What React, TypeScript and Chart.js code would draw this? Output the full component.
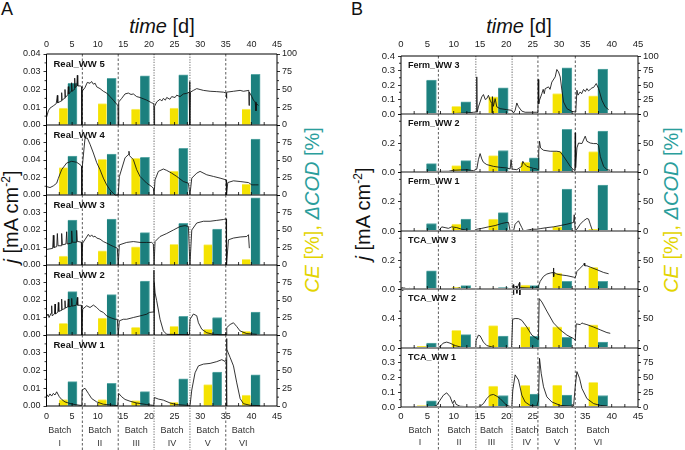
import React, { useEffect, useRef } from 'react';
import { Chart, registerables } from 'chart.js';

Chart.register(...registerables);

const FONT = '"Liberation Sans", Arial, Helvetica, sans-serif';
Chart.defaults.font.family = FONT;

const YELLOW = '#f4e200';
const TEAL = '#1c807e';
const YELLOW_RIM = '#f8ee70';
const TEAL_RIM = '#5aa8a6';
const LABEL_YELLOW = '#e3d400';
const LABEL_TEAL = '#2b9e9c';
const TICK_COLOR = '#222';

type P = [number, number];

const batchNames = ['I', 'II', 'III', 'IV', 'V', 'VI'];

// ---------- Panel A ----------
const batchBoundsA = [7, 14, 21, 28, 35];
const batchGrayA = [false, false, true, true, false];
const batchLabelPosA = [2.6, 10.4, 17.5, 24.5, 31.5, 38.4];
const ceDayA = [3.3, 10.9, 17.4, 24.9, 31.5, 39.0];
const codDayA = [5.05, 12.7, 19.2, 26.7, 33.3, 40.8];
const namesA = ['Real_WW 5', 'Real_WW 4', 'Real_WW 3', 'Real_WW 2', 'Real_WW 1'];
const jMaxA = [0.04, 0.08, 0.04, 0.04, 0.04];
const jStepA = [0.01, 0.02, 0.01, 0.01, 0.01];

const ceRealWW5 = [23.7, 30.2, 22.3, 23.7, 0, 22.3];
const codRealWW5 = [58.6, 65.6, 69.3, 70.7, 0, 71.2];
const ceRealWW4 = [39, 51, 52.4, 34.3, 0, 15.7];
const codRealWW4 = [55.7, 58.6, 53.8, 66.7, 0, 80];
const ceRealWW3 = [12.7, 20.3, 26, 29.7, 29.2, 8];
const codRealWW3 = [64.3, 65.7, 46.2, 59.5, 51.4, 96];
const ceRealWW2 = [16.8, 24, 11, 12.5, 8.2, 5.3];
const codRealWW2 = [62, 57.7, 77, 26.5, 25, 32.7];
const ceRealWW1 = [9.2, 9.2, 7.7, 5.3, 30, 15.5];
const codRealWW1 = [34.3, 31.9, 20.3, 38.2, 47.8, 44];

const jRealWW5: P[] = [[0,0.0043],[0.36,0.008],[0.68,0.0095],[1.33,0.0108],[1.9,0.012],[2.12,0.0167],[2.2,0.0125],[2.85,0.0135],[2.96,0.0182],[3.05,0.014],[3.5,0.015],[3.61,0.02],[3.7,0.0155],[4.15,0.017],[4.26,0.0216],[4.35,0.0175],[4.8,0.019],[4.9,0.0238],[5.0,0.019],[5.4,0.02],[5.5,0.0264],[5.6,0.021],[5.9,0.022],[6.02,0.028],[6.1,0.022],[6.6,0.022],[6.88,0.0215],[6.9,0],[6.95,0.019],[7.5,0.021],[7.97,0.024],[8.5,0.0235],[8.8,0.0245],[9.15,0.023],[9.5,0.0235],[9.8,0.0215],[10.45,0.0205],[11.1,0.019],[11.75,0.018],[12.4,0.016],[13.05,0.014],[13.6,0.012],[13.95,0.011],[14,0],[14.1,0.013],[14.68,0.015],[15.33,0.0175],[15.98,0.018],[16.5,0.0172],[16.96,0.0175],[17.61,0.016],[18.26,0.0155],[19.57,0.014],[20.54,0.0125],[20.95,0.012],[21,0],[21.1,0.0105],[21.51,0.013],[22.17,0.0145],[22.5,0.0135],[22.82,0.015],[23.2,0.014],[23.47,0.0155],[24.1,0.0145],[24.44,0.016],[25.1,0.0155],[25.42,0.0168],[26.07,0.016],[26.72,0.0175],[27.37,0.0178],[27.85,0.0185],[27.95,0.0245],[28,0],[28.1,0.0185],[28.68,0.0195],[29.33,0.0205],[29.98,0.02],[30.63,0.0195],[31.94,0.019],[33.24,0.0188],[34.54,0.0185],[35.1,0.018],[35.15,0.015],[35.2,0.0185],[36.5,0.019],[37.8,0.0195],[38.45,0.019],[39.5,0.0195],[39.55,0.011],[39.6,0.0185],[40.08,0.016],[40.4,0.014],[40.73,0.013],[40.9,0.008],[41.0,0.012],[41.38,0.011]];

const jRealWW4: P[] = [[0.03,0.0096],[0.68,0.0085],[1.33,0.0104],[1.99,0.0135],[2.31,0.019],[2.96,0.029],[3.94,0.0366],[4.92,0.0385],[5.89,0.0374],[6.54,0.0347],[6.85,0.033],[6.9,0],[6.95,0.03],[7.52,0.065],[7.97,0.065],[8.5,0.058],[9.15,0.048],[9.8,0.037],[10.45,0.029],[11.1,0.0193],[11.75,0.0116],[12.4,0.0058],[13.05,0.0019],[13.38,0],[14,0],[14.22,0.021],[15.33,0.0424],[15.98,0.0462],[16.1,0.05],[16.2,0.045],[16.96,0.0404],[17.61,0.0289],[18.26,0.0212],[19.57,0.0135],[20.54,0.0096],[20.86,0.0077],[21,0],[21.19,0.0173],[21.84,0.027],[22.82,0.0297],[23.47,0.0281],[24.44,0.025],[25.42,0.0212],[26.72,0.0154],[27.7,0.0135],[28,0],[28.36,0.0193],[29.33,0.025],[29.98,0.027],[31.29,0.0231],[32.59,0.0212],[33.89,0.0193],[35.06,0.0173],[35.15,0],[35.39,0.0142],[36.5,0.0162],[37.8,0.0154],[39.43,0.0142],[40.08,0.0116],[40.73,0.0116],[41.38,0.0116]];

const jRealWW3: P[] = [[0.03,0.0089],[1.2,0.0095],[1.33,0.017],[1.45,0.01],[2.0,0.0105],[2.12,0.018],[2.25,0.011],[2.85,0.011],[2.96,0.018],[3.1,0.0115],[3.8,0.012],[3.94,0.019],[4.05,0.012],[4.8,0.0125],[4.92,0.0195],[5.05,0.013],[5.8,0.013],[5.89,0.0198],[6.0,0.0135],[6.8,0.013],[6.9,0],[7.06,0.0125],[7.84,0.016],[8.17,0.0175],[8.5,0.0162],[8.82,0.0172],[9.15,0.016],[9.47,0.0165],[9.8,0.0154],[10.45,0.0148],[11.1,0.0134],[11.75,0.0125],[12.4,0.0115],[13.05,0.0106],[13.83,0.0096],[14,0],[14.22,0.0115],[15.65,0.0129],[16.96,0.0134],[18.26,0.0129],[19.57,0.0129],[20.54,0.0129],[20.86,0.012],[21,0],[21.19,0.0134],[22.17,0.0163],[23.47,0.018],[24.77,0.02],[26.07,0.022],[27.05,0.0225],[27.7,0.022],[28,0],[28.36,0.02],[29.33,0.024],[30.63,0.025],[31.94,0.025],[33.24,0.0255],[34.54,0.026],[35.06,0.0264],[35.15,0],[35.52,0.0144],[36.5,0.0154],[37.8,0.016],[39.1,0.0163],[39.43,0.0173],[39.6,0.0096]];

const jRealWW2: P[] = [[0.03,0.0106],[0.3,0.012],[0.5,0.01],[0.9,0.0125],[1.01,0.0167],[1.1,0.011],[1.55,0.012],[1.66,0.0177],[1.75,0.012],[2.2,0.013],[2.31,0.0186],[2.4,0.0135],[2.85,0.014],[2.96,0.0205],[3.05,0.0145],[3.5,0.015],[3.61,0.0196],[3.7,0.0155],[4.15,0.016],[4.26,0.0205],[4.35,0.016],[4.8,0.0165],[4.92,0.0209],[5.0,0.0165],[5.8,0.017],[6.02,0.0215],[6.1,0.017],[6.8,0.017],[6.9,0],[7.06,0.0148],[7.84,0.0167],[8.5,0.0157],[9.15,0.0171],[9.8,0.0157],[10.45,0.0138],[11.1,0.0129],[11.75,0.0109],[12.4,0.01],[13.38,0.009],[13.83,0.009],[14,0],[14.22,0.0081],[15,0.009],[15.65,0.009],[16.96,0.01],[18.26,0.0109],[19.57,0.0119],[20.09,0.0129],[20.95,0.0132],[20.98,0.037],[21,0],[21.05,0.03],[21.2,0.024],[21.51,0.0196],[22.17,0.009],[22.82,0.0023],[23.47,0.0004],[27.9,0.0002],[28.03,0.009],[28.68,0.012],[29.33,0.011],[29.66,0.007],[30.31,0.0033],[31.29,0.0013],[32.59,0.0004],[33.89,0.0002],[35.1,0.0002],[35.19,0.0042],[35.84,0.006],[36.5,0.007],[37.15,0.0048],[37.8,0.0023],[39.1,0.0008],[41.05,0.0004]];

const jRealWW1: P[] = [[0.03,0.0066],[0.36,0.0052],[0.68,0.0068],[1.01,0.0056],[1.33,0.0071],[1.66,0.0062],[1.99,0.008],[2.51,0.0052],[2.96,0.0037],[3.61,0.0023],[4.59,0.0014],[5.57,0.0008],[6.54,0.0004],[6.9,0.0003],[6.95,0.009],[7.52,0.01],[8.17,0.0071],[8.82,0.0042],[9.8,0.0023],[11.1,0.001],[13.05,0.0004],[13.9,0.0002],[14.1,0.0071],[14.68,0.0052],[15.33,0.0037],[16.3,0.0027],[17.61,0.0017],[19.57,0.0008],[20.73,0.0004],[20.95,0.0003],[21.05,0.0048],[21.84,0.0039],[22.82,0.0033],[24.12,0.0017],[25.42,0.0008],[27.37,0.0004],[28.03,0.0004],[28.36,0.009],[29.0,0.0187],[29.66,0.0226],[30.63,0.0236],[31.94,0.024],[33.24,0.025],[34.22,0.0261],[34.87,0.0251],[35.1,0.026],[35.15,0.038],[35.19,0],[35.22,0.032],[35.84,0.0274],[36.5,0.0226],[37.15,0.013],[37.8,0.0042],[38.45,0.0013],[39.76,0.0004],[41.7,0.0002]];

// ---------- Panel B ----------
const batchBoundsB = [7.1, 14.2, 21.1, 26.0, 33.1];
const batchGrayB = [false, true, true, false, false];
const batchLabelPosB = [3.6, 11.0, 17.2, 23.9, 29.6, 37.4];
const ceDayB = [3.93, 10.5, 17.5, 23.6, 29.66, 36.5];
const codDayB = [5.77, 12.3, 19.4, 25.3, 31.5, 38.3];
const namesB = ['Ferm_WW 3', 'Ferm_WW 2', 'Ferm_WW 1', 'TCA_WW 3', 'TCA_WW 2', 'TCA_WW 1'];
const jMaxB = [0.4, 0.4, 0.4, 0.4, 0.8, 0.4];
const jStepB = [0.1, 0.1, 0.1, 0.1, 0.2, 0.1];

const ceFermWW3 = [0, 13.3, 29.5, 0, 35.3, 31.2];
const codFermWW3 = [58.4, 20.8, 45, 0, 79.8, 77.5];
const ceFermWW2 = [1, 11, 28.3, 16.8, 35.3, 35.3];
const codFermWW2 = [14.5, 19.7, 37, 24.3, 73.4, 70.5];
const ceFermWW1 = [1.7, 11.6, 20.2, 0, 7.5, 2.9];
const codFermWW1 = [12.7, 20.2, 31.2, 0, 71, 78];
const ceTcaWW3 = [1, 2.9, 1.7, 6.9, 27.5, 37.2];
const codTcaWW3 = [31.5, 5.7, 2.3, 5.7, 13.2, 13.2];
const ceTcaWW2 = [3, 29.8, 38, 35.7, 35.7, 39.3];
const codTcaWW2 = [8.3, 22.6, 20.2, 19.6, 17.9, 10.1];
const ceTcaWW1 = [2.3, 0, 35.5, 36.7, 37.2, 41.8];
const codTcaWW1 = [10.3, 0, 19.5, 21.8, 20, 19.5];

const jFermWW3: P[] = [[0,0],[7.4,0.001],[9.3,0.002],[12.5,0.007],[13.75,0.012],[14.3,0.014],[14.39,0.256],[14.45,0.012],[14.7,0.049],[15.34,0.118],[15.65,0.134],[16.0,0.1],[16.29,0.106],[16.6,0.129],[16.92,0.095],[17.24,0.072],[17.3,0],[17.35,0.12],[17.55,0.053],[17.87,0.106],[18.19,0.049],[18.82,0.037],[20.09,0.03],[21.04,0.025],[21.36,0.007],[21.67,0.025],[21.99,0.076],[22.31,0.05],[22.94,0.02],[23.57,0.012],[25.79,0.012],[26.0,0.01],[26.05,0.238],[26.15,0.07],[26.3,0.095],[26.74,0.14],[27.0,0.17],[27.2,0.14],[27.38,0.175],[28.01,0.187],[28.3,0.17],[28.64,0.22],[29.28,0.256],[29.59,0.307],[29.91,0.29],[30.23,0.256],[30.55,0.164],[30.86,0.083],[31.5,0.037],[32.45,0.018],[33.08,0.014],[33.2,0.025],[33.4,0.164],[33.6,0.13],[34.03,0.152],[34.3,0.14],[34.66,0.169],[35.0,0.155],[35.3,0.175],[35.6,0.16],[35.93,0.169],[36.25,0.18],[36.57,0.183],[37.07,0.21],[37.52,0.175],[38.15,0.095],[38.78,0.049],[39.42,0.03]];

const jFermWW2: P[] = [[0,0.002],[9.0,0.005],[9.95,0.012],[12.48,0.016],[13.75,0.009],[14.39,0.02],[14.7,0.085],[15.02,0.127],[15.34,0.09],[15.65,0.067],[16.29,0.051],[17.55,0.039],[18.82,0.032],[20.09,0.028],[20.72,0.021],[20.9,0.085],[21.1,0.02],[21.99,0.016],[22.94,0.039],[23.13,0.074],[23.38,0.058],[23.89,0.039],[24.52,0.032],[25.16,0.025],[25.79,0.021],[26.05,0.016],[26.15,0.143],[26.3,0.212],[26.5,0.166],[27.06,0.15],[28.33,0.143],[29.59,0.143],[30.23,0.139],[30.86,0.108],[31.5,0.074],[32.13,0.039],[32.76,0.016],[33.0,0.01],[33.08,0.27],[33.15,0.03],[33.4,0.166],[33.71,0.2],[34.35,0.196],[34.98,0.247],[35.3,0.212],[35.93,0.2],[36.57,0.196],[37.2,0.196],[37.52,0.182],[37.83,0.108],[38.47,0.039],[39.1,0.016],[39.73,0.012]];

const jFermWW1: P[] = [[0,0],[7.0,0.002],[7.41,0.012],[7.73,0.028],[8.37,0.023],[9.0,0.018],[9.63,0.028],[10.58,0.023],[11.53,0.012],[12.48,0.005],[13.75,0],[14.39,0.012],[15.34,0.018],[16.6,0.028],[17.87,0.037],[19.14,0.051],[20.09,0.058],[20.41,0.058],[20.72,0],[21.36,0],[21.67,0.046],[22.31,0.069],[22.94,0.023],[23.26,0],[23.89,0.005],[24.84,0.012],[25.79,0.012],[26.43,0.016],[27.69,0.023],[28.96,0.028],[30.23,0.037],[31.5,0.046],[32.76,0.058],[32.89,0.11],[33.08,0.005],[33.4,0.012],[34.03,0.046],[34.66,0.069],[35.3,0.085],[35.61,0.081],[35.93,0.046],[36.25,0.012],[36.57,0]];

const jTcaWW3: P[] = [[0.1,0.01],[0.2,-0.01],[0.35,0.012],[0.5,-0.008],[0.7,0.009],[0.9,-0.006],[1.1,0.006],[1.3,-0.004],[1.6,0.004],[2.0,0],[10.5,0.002],[11.2,0.008],[11.5,-0.004],[12.0,0.006],[12.5,-0.003],[13.0,0.004],[13.5,0],[21.2,0],[21.3,0.03],[21.35,-0.04],[21.45,0.01],[21.9,0.02],[22.0,-0.03],[22.1,0.01],[22.5,0.045],[22.55,-0.065],[22.65,0.01],[25.5,0.005],[25.8,0.018],[26.0,-0.01],[26.1,0.02],[26.43,0.053],[27.06,0.087],[27.69,0.103],[28.33,0.11],[28.9,0.114],[28.96,0.145],[29.0,0.085],[29.1,0.114],[29.59,0.103],[30.23,0.098],[31.5,0.092],[32.76,0.082],[33.0,0.076],[33.2,0.092],[33.4,0.121],[34.03,0.144],[34.66,0.167],[34.8,0.178],[34.9,0.16],[35.3,0.16],[35.93,0.151],[37.2,0.133],[38.47,0.114],[39.42,0.105]];

const jTcaWW2: P[] = [[0,0],[6.8,0],[7.4,0.019],[8.0,0.066],[8.68,0.08],[9.3,0.066],[10.3,0.033],[11.53,0.009],[13.0,0],[14.2,0],[14.26,0.104],[14.7,0.175],[15.02,0.165],[15.65,0.08],[16.29,0.033],[17.55,0.009],[20.09,0],[21.0,0],[21.2,0.39],[21.67,0.4],[22.31,0.398],[22.94,0.375],[23.89,0.284],[24.84,0.175],[25.79,0.128],[26.1,0.114],[26.24,0.67],[26.74,0.625],[27.69,0.5],[28.96,0.34],[30.23,0.246],[31.5,0.175],[32.76,0.128],[33.08,0.104],[33.27,0.327],[34.03,0.317],[34.35,0.34],[34.66,0.33],[35.3,0.317],[36.57,0.284],[37.83,0.246],[39.1,0.209],[39.73,0.199]];

const jTcaWW1: P[] = [[0,0],[6.0,0],[6.78,0.011],[7.41,0.046],[8.05,0.08],[8.68,0.096],[9.32,0.069],[9.82,0.023],[10.14,0.046],[10.46,0.018],[11.22,0.005],[13.75,0],[15.02,0.005],[15.65,0.023],[16.29,0.057],[16.92,0.08],[17.55,0.085],[18.19,0.073],[18.82,0.057],[19.45,0.034],[20.09,0.011],[21.04,0],[21.23,0.115],[21.67,0.218],[22.31,0.183],[22.94,0.08],[23.57,0.034],[24.52,0.011],[25.79,0.005],[26.11,0.046],[26.3,0.33],[26.62,0.229],[27.06,0.137],[27.69,0.069],[28.64,0.034],[30.23,0.011],[32.76,0.005],[33.08,0.137],[33.4,0.24],[33.9,0.195],[34.35,0.126],[35.3,0.057],[36.57,0.023],[37.83,0.011],[39.1,0.007]];

const xTicksDays = 45;

interface Panel {
  left: number; width: number; lw: number; rw: number;
  bounds: number[];
  names: string[]; lines: P[][]; ce: number[][]; cod: number[][];
  jMax: number[]; jStep: number[];
  ceDay: number[]; codDay: number[];
  batchBounds: number[]; batchGray: boolean[]; batchLabelPos: number[];
  dec: number; tickFont: number; nameFont: number; ceW: number; codW: number;
  zeroLine: boolean; xPadTop: number; xPadBottom: number; batchY: [number, number];
}

const panelA: Panel = {
  left: 0, width: 340, lw: 46.5, rw: 63,
  bounds: [54, 125, 195, 265, 335, 406],
  names: namesA,
  lines: [jRealWW5, jRealWW4, jRealWW3, jRealWW2, jRealWW1],
  ce: [ceRealWW5, ceRealWW4, ceRealWW3, ceRealWW2, ceRealWW1],
  cod: [codRealWW5, codRealWW4, codRealWW3, codRealWW2, codRealWW1],
  jMax: jMaxA, jStep: jStepA, ceDay: ceDayA, codDay: codDayA,
  batchBounds: batchBoundsA, batchGray: batchGrayA, batchLabelPos: batchLabelPosA,
  dec: 2, tickFont: 9, nameFont: 9.5, ceW: 8.5, codW: 9.3,
  zeroLine: false, xPadTop: 4.3, xPadBottom: 5.3, batchY: [24.7, 38],
};

const panelB: Panel = {
  left: 345, width: 340, lw: 56, rw: 47,
  bounds: [56, 114, 172, 231, 289, 348, 407],
  names: namesB,
  lines: [jFermWW3, jFermWW2, jFermWW1, jTcaWW3, jTcaWW2, jTcaWW1],
  ce: [ceFermWW3, ceFermWW2, ceFermWW1, ceTcaWW3, ceTcaWW2, ceTcaWW1],
  cod: [codFermWW3, codFermWW2, codFermWW1, codTcaWW3, codTcaWW2, codTcaWW1],
  jMax: jMaxB, jStep: jStepB, ceDay: ceDayB, codDay: codDayB,
  batchBounds: batchBoundsB, batchGray: batchGrayB, batchLabelPos: batchLabelPosB,
  dec: 1, tickFont: 9.5, nameFont: 9, ceW: 9.3, codW: 10,
  zeroLine: true, xPadTop: 6, xPadBottom: 4, batchY: [23.7, 36],
};

function SubChart({ p, i }: { p: Panel; i: number }) {
  const ref = useRef<HTMLCanvasElement>(null);
  const n = p.names.length;
  const isTop = i === 0;
  const isBottom = i === n - 1;
  const top = p.bounds[i];
  const bottom = p.bounds[i + 1];
  const axT = isTop ? 20 : 0;
  const padT = isTop ? 0 : 6;
  const padB = isBottom ? 0 : 6;
  const axB = isBottom ? 450 - bottom : 0;
  const cTop = top - padT - axT;
  const cH = bottom - top + padT + padB + axT + axB;

  useEffect(() => {
    if (!ref.current) return;
    const ceData = p.ce[i].map((v, k) => ({ x: p.ceDay[k], y: v })).filter((d) => d.y > 0);
    const codData = p.cod[i].map((v, k) => ({ x: p.codDay[k], y: v })).filter((d) => d.y > 0);
    const lineData = p.lines[i].map(([x, y]) => ({ x, y }));

    const decor = {
      id: 'decor',
      beforeDatasetsDraw(chart: any) {
        const { ctx, chartArea: a } = chart;
        const xs = chart.scales.x;
        ctx.save();
        p.batchBounds.forEach((d, k) => {
          const px = xs.getPixelForValue(d);
          const gray = p.batchGray[k];
          ctx.strokeStyle = gray ? '#9a9a9a' : '#333';
          ctx.lineWidth = gray ? 1.4 : 0.8;
          ctx.setLineDash(gray ? [1.3, 1.3] : [2.5, 2]);
          ctx.beginPath();
          ctx.moveTo(px, a.top);
          ctx.lineTo(px, isBottom ? chart.height : a.bottom);
          ctx.stroke();
        });
        ctx.restore();
      },
      afterDatasetsDraw(chart: any) {
        const { ctx, chartArea: a } = chart;
        if (p.zeroLine) {
          ctx.save();
          ctx.strokeStyle = '#8c8c8c';
          ctx.lineWidth = 2;
          ctx.beginPath();
          ctx.moveTo(a.left, a.bottom);
          ctx.lineTo(a.right, a.bottom);
          ctx.stroke();
          ctx.restore();
        }
      },
      afterDraw(chart: any) {
        const { ctx, chartArea: a } = chart;
        const xs = chart.scales.x;
        const ys = chart.scales.y;
        ctx.save();
        ctx.strokeStyle = '#000';
        ctx.lineWidth = 1;
        ctx.beginPath();
        ctx.moveTo(a.left, a.top);
        ctx.lineTo(a.left, a.bottom);
        ctx.moveTo(a.right, a.top);
        ctx.lineTo(a.right, a.bottom);
        if (isTop) {
          ctx.moveTo(a.left, a.top);
          ctx.lineTo(a.right, a.top);
        }
        if (!p.zeroLine) {
          ctx.moveTo(a.left, a.bottom);
          ctx.lineTo(a.right, a.bottom);
        }
        ctx.stroke();
        // inward tick marks on the bottom edge, minor outward ticks on y axes
        ctx.lineWidth = 0.8;
        ctx.beginPath();
        for (let d = 2.5; d < xTicksDays; d += 2.5) {
          const px = xs.getPixelForValue(d);
          ctx.moveTo(px, a.bottom);
          ctx.lineTo(px, a.bottom - 3);
        }
        const step = p.jStep[i];
        for (let v = step / 2; v < p.jMax[i]; v += step) {
          const py = ys.getPixelForValue(v);
          ctx.moveTo(a.left, py);
          ctx.lineTo(a.left - 2, py);
          const py2 = chart.scales.y2.getPixelForValue((v / p.jMax[i]) * 100);
          ctx.moveTo(a.right, py2);
          ctx.lineTo(a.right + 2, py2);
        }
        ctx.stroke();
        // subplot name
        ctx.fillStyle = '#111';
        ctx.font = `bold ${p.nameFont}px ${FONT}`;
        ctx.textAlign = 'left';
        ctx.textBaseline = 'middle';
        ctx.fillText(p.names[i], a.left + 7, a.top + 10);
        // batch labels
        if (isBottom) {
          ctx.font = `9px ${FONT}`;
          ctx.fillStyle = '#333';
          ctx.textAlign = 'center';
          p.batchLabelPos.forEach((d, k) => {
            const px = xs.getPixelForValue(d);
            ctx.fillText('Batch', px, a.bottom + p.batchY[0]);
            ctx.fillText(batchNames[k], px, a.bottom + p.batchY[1]);
          });
        }
        ctx.restore();
      },
    };

    const tickFont = { family: FONT, size: p.tickFont };
    const chart = new Chart(ref.current, {
      type: 'bar',
      data: {
        datasets: [
          {
            type: 'line',
            data: lineData,
            borderColor: '#111',
            borderWidth: 0.85,
            pointRadius: 0,
            tension: 0,
            borderJoinStyle: 'round',
            yAxisID: 'y',
            order: 0,
            clip: false,
          } as any,
          {
            type: 'bar',
            data: ceData,
            backgroundColor: YELLOW,
            borderColor: YELLOW_RIM,
            borderWidth: { top: 1, left: 0, right: 0, bottom: 0 },
            barThickness: p.ceW,
            grouped: false,
            yAxisID: 'y2',
            order: 1,
          } as any,
          {
            type: 'bar',
            data: codData,
            backgroundColor: TEAL,
            borderColor: TEAL_RIM,
            borderWidth: { top: 1, left: 0, right: 1, bottom: 0 },
            barThickness: p.codW,
            grouped: false,
            yAxisID: 'y2',
            order: 2,
          } as any,
        ],
      },
      options: {
        responsive: false,
        animation: false,
        events: [],
        layout: { padding: { top: padT, bottom: padB, left: 0, right: 0 } },
        plugins: { legend: { display: false }, tooltip: { enabled: false } },
        scales: {
          x: {
            type: 'linear',
            min: 0,
            max: 45,
            offset: false,
            display: isTop || isBottom,
            position: isTop ? 'top' : 'bottom',
            grid: { display: false, drawTicks: false, offset: false },
            border: { display: false },
            ticks: {
              stepSize: 5,
              autoSkip: false,
              maxRotation: 0,
              padding: isTop ? p.xPadTop : p.xPadBottom,
              font: tickFont,
              color: TICK_COLOR,
              callback: (v: any) => String(v),
            },
            afterFit: (s: any) => {
              s.height = isTop ? axT : axB;
              s.paddingLeft = 0;
              s.paddingRight = 0;
            },
          },
          y: {
            type: 'linear',
            position: 'left',
            min: 0,
            max: p.jMax[i],
            grid: { drawOnChartArea: false, drawTicks: true, tickLength: 3, color: '#000', lineWidth: 0.8 },
            border: { display: false },
            ticks: {
              stepSize: p.jStep[i],
              padding: 3,
              font: tickFont,
              color: TICK_COLOR,
              callback: (v: any, idx: number, ticks: any[]) =>
                !isTop && idx === ticks.length - 1 ? '' : Number(v).toFixed(p.dec),
            },
            afterFit: (s: any) => {
              s.width = p.lw;
              s.paddingTop = 0;
              s.paddingBottom = 0;
            },
          },
          y2: {
            type: 'linear',
            position: 'right',
            min: 0,
            max: 100,
            grid: { drawOnChartArea: false, drawTicks: true, tickLength: 3, color: '#000', lineWidth: 0.8 },
            border: { display: false },
            ticks: {
              stepSize: 25,
              padding: 2,
              font: tickFont,
              color: TICK_COLOR,
              callback: (v: any, idx: number, ticks: any[]) =>
                !isTop && idx === ticks.length - 1 ? '' : String(Math.round(Number(v))),
            },
            afterFit: (s: any) => {
              s.width = p.rw;
              s.paddingTop = 0;
              s.paddingBottom = 0;
            },
          },
        },
      } as any,
      plugins: [decor],
    });
    return () => chart.destroy();
  }, []);

  return (
    <canvas
      ref={ref}
      width={p.width}
      height={cH}
      style={{ position: 'absolute', left: p.left, top: cTop, width: p.width, height: cH }}
    />
  );
}

const rotLabel = (cx: number, cy: number, content: React.ReactNode) => (
  <div
    style={{
      position: 'absolute',
      left: cx,
      top: cy,
      transform: 'translate(-50%, -50%) rotate(-90deg)',
      whiteSpace: 'nowrap',
      fontSize: 20,
      lineHeight: '20px',
      color: '#111',
    }}
  >
    {content}
  </div>
);

const jLabel = (
  <span>
    <i>j</i> [mA cm<span style={{ fontSize: 12, verticalAlign: 8, lineHeight: 0 }}>-2</span>]
  </span>
);

const ceLabel = (
  <span>
    <span style={{ color: LABEL_YELLOW }}>
      <i>CE</i> [%],{' '}
    </span>
    <span style={{ color: LABEL_TEAL }}>
      <i>ΔCOD</i> [%]
    </span>
  </span>
);

const timeLabel = (cx: number) => (
  <div
    style={{
      position: 'absolute',
      left: cx,
      top: 16,
      transform: 'translateX(-50%)',
      fontSize: 20,
      lineHeight: '20px',
      whiteSpace: 'nowrap',
      color: '#111',
    }}
  >
    <i>time</i> [d]
  </div>
);

export default function App() {
  return (
    <div
      style={{
        position: 'fixed',
        left: 0,
        top: 0,
        width: 685,
        height: 450,
        background: '#fff',
        overflow: 'hidden',
        fontFamily: FONT,
      }}
    >
      <div style={{ position: 'absolute', left: 1, top: 0, fontSize: 18, lineHeight: '18px', color: '#111' }}>A</div>
      <div style={{ position: 'absolute', left: 351, top: 0, fontSize: 18, lineHeight: '18px', color: '#111' }}>B</div>
      {timeLabel(162)}
      {timeLabel(519)}
      {rotLabel(10.5, 217, jLabel)}
      {rotLabel(362.7, 214, jLabel)}
      {rotLabel(311.7, 210, ceLabel)}
      {rotLabel(671, 210, ceLabel)}
      {panelA.names.map((_, i) => (
        <SubChart key={'a' + i} p={panelA} i={i} />
      ))}
      {panelB.names.map((_, i) => (
        <SubChart key={'b' + i} p={panelB} i={i} />
      ))}
    </div>
  );
}
